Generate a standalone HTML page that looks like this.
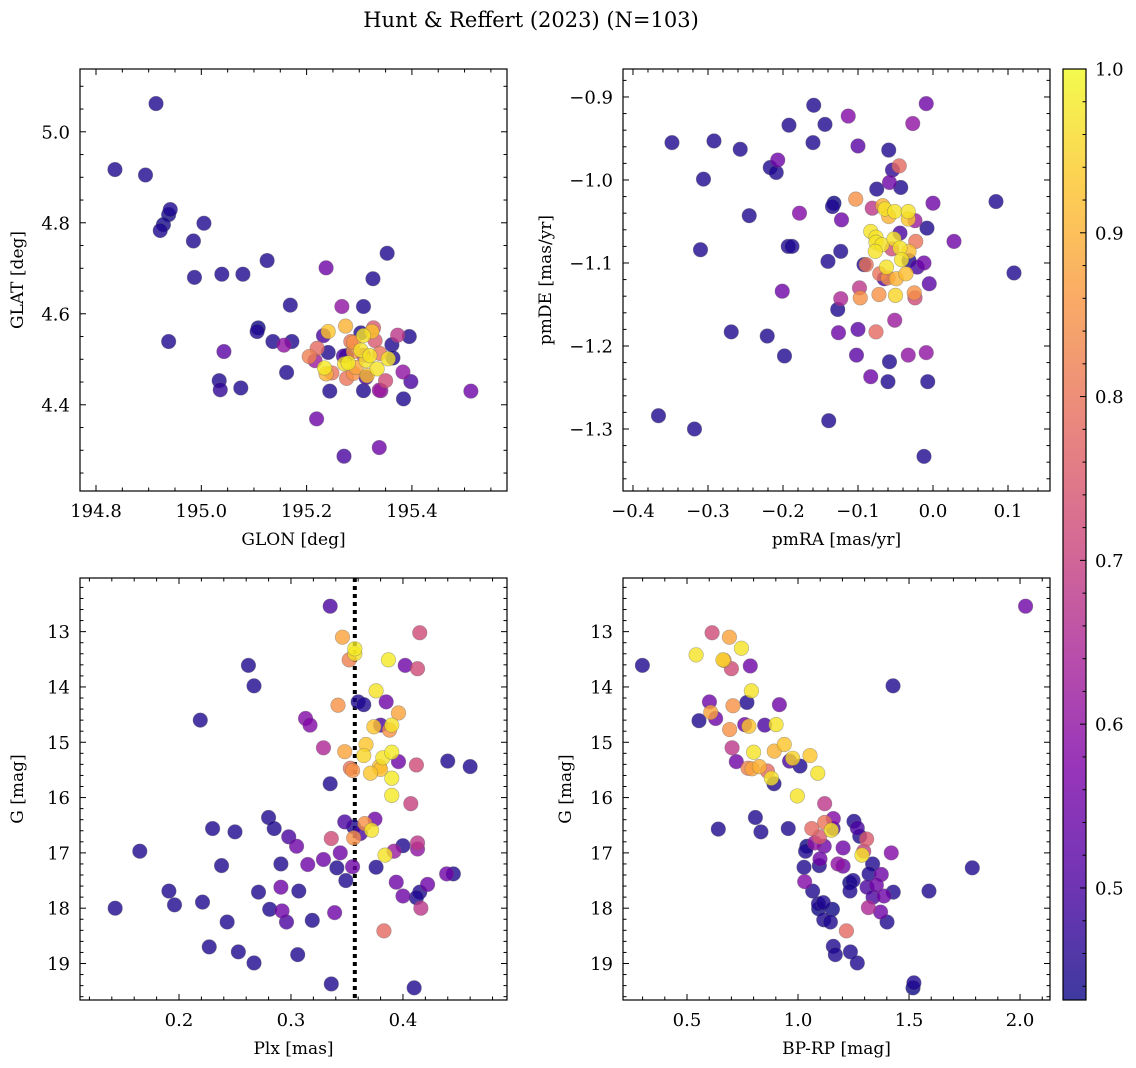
<!DOCTYPE html>
<html><head><meta charset="utf-8"><title>Hunt &amp; Reffert (2023)</title>
<style>
html,body{margin:0;padding:0;background:#fff;}
svg{display:block;font-family:"DejaVu Serif","Liberation Serif",serif;}
</style></head>
<body>
<svg id="fig" width="1136" height="1068" viewBox="0 0 1136 1068" xmlns="http://www.w3.org/2000/svg">
<defs>
<linearGradient id="plasmaGrad" x1="0" y1="1" x2="0" y2="0">
<stop offset="0" stop-color="#0d0887"/><stop offset="0.125" stop-color="#4c02a1"/>
<stop offset="0.25" stop-color="#7e03a8"/><stop offset="0.375" stop-color="#a92395"/>
<stop offset="0.5" stop-color="#cc4778"/><stop offset="0.625" stop-color="#e56b5d"/>
<stop offset="0.75" stop-color="#f89540"/><stop offset="0.875" stop-color="#fdc328"/>
<stop offset="1" stop-color="#f0f921"/>
</linearGradient>
</defs>
<text x="531" y="27" text-anchor="middle" font-size="21">Hunt &amp; Reffert (2023) (N=103)</text>
</svg>
<script>
// ---- Panel 1: GLON vs GLAT ----
const p1Glon=[194.914,194.836,194.894,194.941,194.938,194.928,194.922,195.005,194.985,194.987,
195.039,195.079,195.125,194.938,195.043,195.034,195.036,195.075,195.108,195.106,
195.136,195.169,195.172,195.162,195.157,195.237,195.353,195.326,195.308,195.267,
195.219,195.271,195.338,195.512,195.384,195.398,195.383,195.308,195.244,195.338,
195.341,195.395,195.373,195.362,195.364,195.241,195.232,195.241,195.274,195.205,
195.220,195.216,195.234,195.237,195.248,195.276,195.289,195.272,195.279,195.270,
195.276,195.294,195.315,195.313,195.308,195.303,195.289,195.284,195.289,195.303,
195.308,195.324,195.327,195.330,195.320,195.339,195.334,195.350,195.355,195.313];
const p1Glat=[5.062,4.917,4.905,4.829,4.818,4.796,4.783,4.799,4.760,4.680,
4.687,4.687,4.717,4.539,4.517,4.453,4.433,4.437,4.569,4.561,
4.539,4.619,4.539,4.471,4.531,4.701,4.733,4.677,4.616,4.616,
4.369,4.287,4.306,4.430,4.413,4.451,4.472,4.431,4.430,4.432,
4.431,4.550,4.553,4.532,4.503,4.515,4.552,4.561,4.573,4.506,
4.524,4.497,4.481,4.468,4.470,4.458,4.469,4.490,4.492,4.507,
4.508,4.482,4.464,4.497,4.509,4.520,4.517,4.539,4.537,4.558,
4.552,4.561,4.569,4.541,4.508,4.513,4.479,4.453,4.501,4.460];
const p1Prob=[.45,.45,.45,.45,.44,.44,.45,.45,.45,.45,
.45,.45,.45,.45,.52,.45,.47,.45,.42,.45,
.45,.45,.45,.45,.6,.55,.45,.45,.45,.6,
.55,.5,.55,.55,.45,.5,.6,.45,.45,.62,
.6,.45,.68,.45,.45,.45,.5,.93,.9,.82,
.78,.62,.98,.9,.8,.8,.85,.96,.98,.5,
.45,.88,.92,.97,.7,.97,.85,.8,.85,.45,
.97,.93,.75,.75,.97,.8,.97,.72,.97,.5];
const p1XTicks=["194.8","195.0","195.2","195.4"];
const p1YTicks=["4.4","4.6","4.8","5.0"];

// ---- Panel 2: pmRA vs pmDE ----
const p2PmRA=[-0.348,-0.292,-0.257,-0.306,-0.310,-0.245,-0.192,-0.159,-0.144,-0.160,
-0.207,-0.217,-0.209,-0.113,-0.100,-0.059,-0.009,-0.027,-0.045,-0.054,
-0.058,-0.043,-0.075,0.000,0.084,0.028,0.108,-0.132,-0.134,-0.103,
-0.178,-0.122,-0.081,-0.067,-0.064,-0.051,-0.033,-0.059,-0.033,-0.024,
-0.008,-0.044,-0.083,-0.076,-0.076,-0.068,-0.052,-0.055,-0.044,-0.023,
-0.032,-0.077,-0.032,-0.042,-0.012,-0.021,-0.005,-0.062,-0.089,-0.092,
-0.071,-0.060,-0.049,-0.036,-0.065,-0.098,-0.097,-0.072,-0.050,-0.025,
-0.024,-0.123,-0.127,-0.193,-0.188,-0.123,-0.140,-0.201,-0.269,-0.221,
-0.198,-0.126,-0.100,-0.076,-0.051,-0.102,-0.058,-0.033,-0.009,-0.083,
-0.060,-0.007,-0.366,-0.318,-0.139,-0.012];
const p2PmDE=[-0.955,-0.953,-0.963,-0.999,-1.084,-1.043,-0.934,-0.910,-0.933,-0.955,
-0.976,-0.985,-0.991,-0.923,-0.959,-0.964,-0.908,-0.932,-0.983,-0.988,
-1.003,-1.009,-1.011,-1.028,-1.026,-1.074,-1.112,-1.028,-1.032,-1.023,
-1.040,-1.048,-1.034,-1.031,-1.035,-1.038,-1.038,-1.044,-1.047,-1.049,
-1.058,-1.064,-1.062,-1.069,-1.075,-1.078,-1.071,-1.083,-1.082,-1.074,
-1.086,-1.086,-1.097,-1.096,-1.100,-1.105,-1.125,-1.105,-1.102,-1.102,
-1.113,-1.118,-1.119,-1.113,-1.119,-1.130,-1.142,-1.138,-1.139,-1.136,
-1.142,-1.143,-1.156,-1.080,-1.080,-1.086,-1.098,-1.134,-1.183,-1.188,
-1.212,-1.184,-1.180,-1.183,-1.169,-1.211,-1.219,-1.211,-1.208,-1.237,
-1.243,-1.243,-1.284,-1.300,-1.290,-1.333];
const p2Prob=[.45,.45,.45,.45,.45,.45,.45,.45,.45,.45,
.55,.45,.45,.58,.52,.45,.55,.6,.78,.47,
.55,.45,.45,.55,.45,.55,.45,.42,.45,.85,
.58,.55,.68,.9,.97,.97,.97,.9,.93,.62,
.45,.5,.97,.97,.97,.97,.97,.72,.97,.8,
.92,.97,.45,.97,.55,.5,.52,.97,.8,.45,
.8,.85,.9,.92,.5,.68,.85,.85,.95,.85,
.72,.65,.45,.45,.45,.45,.45,.55,.45,.45,
.45,.55,.52,.78,.62,.52,.45,.6,.6,.55,
.45,.45,.45,.45,.45,.45];
const p2XTicks=["−0.4","−0.3","−0.2","−0.1","0.0","0.1"];
const p2YTicks=["−1.3","−1.2","−1.1","−1.0","−0.9"];

// ---- Panel 3: Plx vs G ----
const p3Plx=[0.335,0.346,0.357,0.357,0.352,0.415,0.387,0.402,0.413,0.262,
0.267,0.376,0.385,0.342,0.360,0.365,0.396,0.219,0.313,0.317,
0.374,0.380,0.390,0.388,0.329,0.348,0.367,0.365,0.382,0.390,
0.396,0.412,0.440,0.460,0.353,0.355,0.371,0.379,0.380,0.390,
0.390,0.335,0.407,0.280,0.348,0.375,0.366,0.356,0.362,0.372,
0.356,0.336,0.230,0.250,0.285,0.298,0.305,0.400,0.413,0.413,
0.392,0.384,0.165,0.344,0.329,0.315,0.291,0.238,0.341,0.355,
0.376,0.349,0.439,0.445,0.394,0.422,0.415,0.412,0.400,0.416,
0.291,0.307,0.271,0.191,0.196,0.143,0.221,0.281,0.292,0.243,
0.296,0.319,0.339,0.383,0.227,0.253,0.267,0.306,0.336,0.410];
const p3G=[12.54,13.10,13.31,13.40,13.51,13.02,13.51,13.61,13.67,13.61,
13.98,14.07,14.27,14.33,14.27,14.32,14.47,14.60,14.57,14.69,
14.72,14.69,14.69,14.78,15.10,15.17,15.04,15.24,15.28,15.18,
15.35,15.41,15.34,15.44,15.47,15.51,15.56,15.44,15.49,15.65,
15.96,15.75,16.11,16.36,16.44,16.39,16.47,16.53,16.65,16.59,
16.73,16.74,16.56,16.62,16.56,16.71,16.88,16.87,16.82,16.93,
16.97,17.04,16.97,17.00,17.12,17.21,17.20,17.23,17.27,17.25,
17.26,17.50,17.38,17.38,17.53,17.57,17.71,17.81,17.78,18.00,
17.62,17.69,17.71,17.69,17.94,18.00,17.89,18.02,18.05,18.25,
18.25,18.22,18.08,18.41,18.70,18.79,18.99,18.84,19.37,19.44];
const p3Prob=[.5,.88,.98,.97,.82,.72,.98,.55,.72,.45,
.45,.97,.55,.85,.45,.45,.88,.45,.58,.58,
.93,.5,.97,.85,.65,.88,.93,.95,.97,.98,
.55,.72,.45,.45,.8,.85,.93,.92,.92,.98,
.98,.45,.7,.45,.5,.55,.85,.45,.5,.97,
.85,.72,.45,.45,.45,.5,.55,.45,.68,.6,
.62,.97,.45,.55,.55,.55,.45,.45,.45,.55,
.45,.45,.55,.45,.55,.55,.45,.45,.55,.68,
.55,.45,.45,.45,.45,.45,.45,.45,.55,.45,
.5,.45,.55,.78,.45,.45,.45,.45,.45,.45];
const p3XTicks=["0.2","0.3","0.4"];
const p3YTicks=["13","14","15","16","17","18","19"];
const p3RefPlx=[0.357];

// ---- Panel 4: BP-RP vs G ----
const p4BpRp=[2.025,0.299,0.613,0.691,0.745,0.541,0.662,0.667,0.700,0.785,
1.428,0.790,0.601,0.770,0.707,0.916,0.607,0.554,0.629,0.692,
0.760,0.779,0.850,0.901,0.703,0.800,0.893,0.938,0.976,0.962,
1.009,1.054,1.089,0.722,0.775,0.793,0.826,0.862,0.880,0.892,
0.997,1.120,0.808,0.641,0.833,0.956,1.062,1.120,1.159,1.158,
1.150,1.097,1.075,1.118,1.252,1.267,1.278,1.309,1.296,1.288,
1.420,1.203,1.040,1.034,1.099,1.096,1.027,1.180,1.203,1.336,
1.320,1.375,1.785,1.030,1.066,1.248,1.233,1.234,1.311,1.353,
1.338,1.387,1.429,1.590,1.317,1.372,1.401,1.092,1.093,1.114,
1.155,1.116,1.146,1.218,1.159,1.168,1.236,1.267,1.522,1.518];
const p4G=[12.54,13.61,13.02,13.10,13.30,13.42,13.51,13.52,13.67,13.62,
13.98,14.07,14.27,14.28,14.34,14.32,14.46,14.61,14.57,14.77,
14.68,14.71,14.69,14.68,15.10,15.18,15.16,15.04,15.29,15.34,
15.43,15.24,15.56,15.35,15.47,15.48,15.44,15.52,15.65,15.75,
15.97,16.11,16.36,16.57,16.62,16.56,16.56,16.45,16.38,16.56,
16.59,16.71,16.82,16.88,16.43,16.55,16.70,16.75,16.97,17.04,
17.00,16.91,16.88,16.97,17.11,17.23,17.26,17.20,17.24,17.20,
17.38,17.39,17.27,17.52,17.69,17.50,17.54,17.69,17.62,17.58,
17.80,17.78,17.71,17.69,17.99,18.07,18.25,17.92,18.01,17.90,
18.02,18.21,18.25,18.41,18.69,18.84,18.79,18.99,19.35,19.44];
const p4Prob=[.55,.45,.72,.88,.97,.97,.95,.85,.72,.55,
.45,.97,.55,.45,.85,.55,.88,.45,.55,.85,
.55,.93,.5,.97,.68,.97,.9,.93,.95,.5,
.45,.93,.97,.55,.82,.88,.9,.78,.97,.45,
.97,.68,.45,.45,.45,.45,.78,.8,.58,.5,
.97,.75,.6,.55,.45,.5,.45,.75,.7,.97,
.58,.55,.42,.45,.55,.45,.45,.6,.55,.45,
.45,.55,.45,.58,.45,.45,.42,.45,.5,.55,
.5,.55,.45,.45,.65,.55,.45,.45,.42,.45,
.42,.45,.45,.78,.45,.45,.45,.45,.45,.42];
const p4XTicks=["0.5","1.0","1.5","2.0"];
const p4YTicks=p3YTicks;

// ---- Colorbar ----
const cbTicks=["0.5","0.6","0.7","0.8","0.9","1.0"];
const cbMin=0.4316, cbMax=1.0;

const NS="http://www.w3.org/2000/svg";
const svg=document.getElementById('fig');
const plasma=[[13,8,135],[76,2,161],[126,3,168],[169,35,149],[204,71,120],[229,107,93],[248,149,64],[253,195,40],[240,249,33]];
function cmap(v){
  let t=(v-cbMin)/(cbMax-cbMin); t=Math.max(0,Math.min(1,t));
  const s=t*(plasma.length-1); const i=Math.min(plasma.length-2,Math.floor(s)); const f=s-i;
  const c=plasma[i].map((a,k)=>Math.round(a+(plasma[i+1][k]-a)*f));
  return 'rgb('+c.join(',')+')';
}
function mk(tag,attrs,parent){
  const e=document.createElementNS(NS,tag);
  for(const k in attrs) e.setAttribute(k,attrs[k]);
  (parent||svg).appendChild(e); return e;
}
function num(s){return parseFloat(s.replace('−','-'));}

function panel(cfg){
  const g=mk('g',{});
  
  
  const {x0,y0,w,h,xd,yd}=cfg;
  const sx=v=>x0+(v-xd[0])/(xd[1]-xd[0])*w;
  const sy=v=>y0+(v-yd[0])/(yd[1]-yd[0])*h;
  function ticks(dom,step,ratio,isX){
    const lo=Math.min(dom[0],dom[1]),hi=Math.max(dom[0],dom[1]);
    for(let i=Math.ceil(lo/step-1e-9);i<=Math.floor(hi/step+1e-9);i++){
      const v=i*step; const major=(Math.round(i)%ratio===0); const L=major?6:3.5;
      if(isX){const x=sx(v);
        const t1=mk('line',{x1:x,y1:y0+h,x2:x,y2:y0+h-L,stroke:'#000','stroke-width':1},g);
        
        
        mk('line',{x1:x,y1:y0,x2:x,y2:y0+L,stroke:'#000','stroke-width':1},g);
      } else {const y=sy(v);
        const t2=mk('line',{x1:x0,y1:y,x2:x0+L,y2:y,stroke:'#000','stroke-width':1},g);
        
        
        mk('line',{x1:x0+w,y1:y,x2:x0+w-L,y2:y,stroke:'#000','stroke-width':1},g);
      }
    }
  }
  ticks(xd,cfg.xminor,cfg.xratio,true);
  ticks(yd,cfg.yminor,cfg.yratio,false);
  if(cfg.ref){cfg.ref.forEach(v=>{
    const rl=mk('line',{x1:sx(v),y1:y0,x2:sx(v),y2:y0+h,stroke:'#000','stroke-width':4,'stroke-dasharray':'4 4'},g);
    
    
  });}
  const idx=cfg.xs.map((_,i)=>i).sort((a,b)=>cfg.ps[a]-cfg.ps[b]);
  const pg=mk('g',{},g);
  
  
  idx.forEach(i=>{
    const c=mk('circle',{cx:sx(cfg.xs[i]),cy:sy(cfg.ys[i]),r:7.3,fill:cmap(cfg.ps[i]),'fill-opacity':0.8,stroke:'#666','stroke-opacity':0.5,'stroke-width':0.6},pg);
    
    
  });
  const fr=mk('rect',{x:x0,y:y0,width:w,height:h,fill:'none',stroke:'#000','stroke-width':1.2},g);
  
  
  cfg.xt.forEach(s=>{
    const t=mk('text',{x:sx(num(s)),y:y0+h+26,'text-anchor':'middle','font-size':18},g);
    t.textContent=s;
    
    
  });
  cfg.yt.forEach(s=>{
    const t=mk('text',{x:x0-10,y:sy(num(s))+6.5,'text-anchor':'end','font-size':18},g);
    t.textContent=s;
    
    
  });
  const xl=mk('text',{x:x0+w/2,y:y0+h+54,'text-anchor':'middle','font-size':17},g);
  xl.textContent=cfg.xlabel;
  
  
  const yl=mk('text',{x:cfg.ylx,y:y0+h/2,'text-anchor':'middle','font-size':17,transform:'rotate(-90 '+cfg.ylx+' '+(y0+h/2)+')'},g);
  yl.textContent=cfg.ylabel;
  
  
}

panel({name:'glon-glat-panel',x0:80,y0:69,w:427,h:422,xd:[194.7696,195.5806],yd:[5.138,4.2105],
  xminor:0.05,xratio:4,yminor:0.05,yratio:4,xs:p1Glon,ys:p1Glat,ps:p1Prob,xt:p1XTicks,yt:p1YTicks,
  xlabel:'GLON [deg]',ylabel:'GLAT [deg]',ylx:23});
panel({name:'proper-motion-panel',x0:623,y0:69,w:427,h:422,xd:[-0.4133,0.156],yd:[-0.8663,-1.3747],
  xminor:0.02,xratio:5,yminor:0.02,yratio:5,xs:p2PmRA,ys:p2PmDE,ps:p2Prob,xt:p2XTicks,yt:p2YTicks,
  xlabel:'pmRA [mas/yr]',ylabel:'pmDE [mas/yr]',ylx:551});
panel({name:'parallax-magnitude-panel',x0:80,y0:578,w:427,h:422,xd:[0.1116,0.4929],yd:[12.03,19.66],
  xminor:0.02,xratio:5,yminor:0.2,yratio:5,xs:p3Plx,ys:p3G,ps:p3Prob,xt:p3XTicks,yt:p3YTicks,ref:p3RefPlx,
  xlabel:'Plx [mas]',ylabel:'G [mag]',ylx:23});
panel({name:'color-magnitude-panel',x0:623,y0:578,w:427,h:422,xd:[0.2117,2.135],yd:[12.03,19.66],
  xminor:0.1,xratio:5,yminor:0.2,yratio:5,xs:p4BpRp,ys:p4G,ps:p4Prob,xt:p4XTicks,yt:p4YTicks,
  xlabel:'BP-RP [mag]',ylabel:'G [mag]',ylx:571});

const cb=mk('g',{});


const cbx=1063,cby=69,cbw=23,cbh=931;
const cbRect=mk('rect',{x:cbx,y:cby,width:cbw,height:cbh,fill:'url(#plasmaGrad)','fill-opacity':0.8},cb);


mk('rect',{x:cbx,y:cby,width:cbw,height:cbh,fill:'none',stroke:'#000','stroke-width':1.2},cb);
const cy=v=>cby+cbh-(v-cbMin)/(cbMax-cbMin)*cbh;
for(let i=Math.ceil(cbMin/0.02);i<=Math.floor(cbMax/0.02+1e-9);i++){
  const v=i*0.02; const major=(i%5===0); const L=major?6:3.5;
  mk('line',{x1:cbx+cbw,y1:cy(v),x2:cbx+cbw-L,y2:cy(v),stroke:'#000','stroke-width':1},cb);
}
cbTicks.forEach(s=>{
  const t=mk('text',{x:cbx+cbw+9,y:cy(parseFloat(s))+6.5,'font-size':18},cb);
  t.textContent=s;
  
  
});
</script>
</body></html>
